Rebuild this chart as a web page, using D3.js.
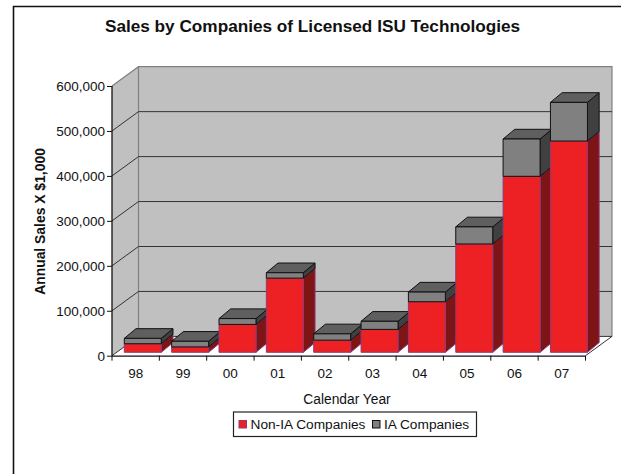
<!DOCTYPE html>
<html><head><meta charset="utf-8">
<script src="https://cdn.jsdelivr.net/npm/d3@7/dist/d3.min.js"></script>
<style>html,body{margin:0;padding:0;background:#fff}svg{display:block}text{font-family:"Liberation Sans",Arial,sans-serif;fill:#111}</style>
</head><body><svg id="c" width="621" height="474"></svg>
<script>
const categories = ["98","99","00","01","02","03","04","05","06","07"];
const nonIA = [19000,12000,62000,165000,27000,51000,112500,241000,391500,470000];
const totals = [31000,24500,75000,177000,41000,69000,134000,279000,474500,556000];
const ia = totals.map((t,i)=>t-nonIA[i]);
const yTicks = [0,100000,200000,300000,400000,500000,600000];
const seriesNames = ["Non-IA Companies","IA Companies"];
const titleText = "Sales by Companies of Licensed ISU Technologies";

const svg = d3.select("#c");
const L=112,R=585.5,T=86,B=355.7,DX=26.5,DY=19.3;
const x = d3.scaleBand().domain(categories).range([L,R]);
const y = d3.scaleLinear().domain([0,600000]).range([B,T]);
const bw=37, bdx=11.7, bdy=9.7, sx=12.3, sy=-3.4;
const poly=(pts,f,s,w)=>svg.append("polygon").attr("points",pts.map(p=>p.join(",")).join(" ")).attr("fill",f).attr("stroke",s||"none").attr("stroke-width",w||0).attr("stroke-linejoin","round");

// frame
svg.append("path").attr("d","M13.5,474V6.5H621").attr("fill","none").attr("stroke","#111").attr("stroke-width",1.6);

// walls
poly([[L,T],[L+DX,T-DY],[L+DX,B-DY],[L,B]],"#c0c0c0");
poly([[L+DX,T-DY],[R+DX,T-DY],[R+DX,B-DY],[L+DX,B-DY]],"#c0c0c0");
svg.append("path").attr("d",`M${L},${T}L${L+DX},${T-DY}H${R+DX}V${B-DY}M${L+DX},${T-DY}V${B-DY}`).attr("fill","none").attr("stroke","#808080").attr("stroke-width",1.2);
// floor
poly([[L,B],[L+DX,B-DY],[R+DX,B-DY],[R,B]],"#fff");
svg.append("path").attr("d",`M${R},${B}L${R+DX},${B-DY}H${L+DX}`).attr("fill","none").attr("stroke","#333").attr("stroke-width",1);
// gridlines
yTicks.slice(1,-1).forEach(v=>{
  svg.append("path").attr("d",`M${L},${y(v)}L${L+DX},${y(v)-DY}H${R+DX}`).attr("fill","none").attr("stroke","#333").attr("stroke-width",1);
});
svg.append("line").attr("x1",L).attr("y1",B).attr("x2",L+DX).attr("y2",B-DY).attr("stroke","#333");

// axes
const axY = svg.append("g").attr("transform",`translate(${L},0)`).call(d3.axisLeft(y).tickValues(yTicks).tickFormat(d3.format(",")).tickSize(5).tickPadding(2));
const axX = svg.append("g").attr("transform",`translate(0,${B})`).call(d3.axisBottom(x).tickSize(0).tickPadding(13));
axX.selectAll(".tick").each(function(d){
  d3.select(this).append("line").attr("x1",-x.bandwidth()/2).attr("x2",-x.bandwidth()/2).attr("y1",0).attr("y2",5).attr("stroke","#111");
});
svg.append("line").attr("x1",R).attr("x2",R).attr("y1",B).attr("y2",B+5).attr("stroke","#111");
[axX,axY].forEach(a=>{a.selectAll("text").attr("font-size",13.5).attr("font-family",'"Liberation Sans"').attr("fill","#111");a.selectAll(".domain").attr("stroke","#111").attr("stroke-width",1.3);a.selectAll(".tick line").attr("stroke","#111")});
axX.select(".domain").attr("d",`M${L},0.5H${R}`);
axY.select(".domain").attr("d",`M0,${T}V${B}`);

function box(x0,yTop,yBot,front,top,side,stroke){
  poly([[x0+bw,yTop],[x0+bw+bdx,yTop-bdy],[x0+bw+bdx,yBot-bdy],[x0+bw,yBot]],side,stroke,1);
  poly([[x0,yTop],[x0+bdx,yTop-bdy],[x0+bw+bdx,yTop-bdy],[x0+bw,yTop]],top,stroke,1);
  poly([[x0,yTop],[x0+bw,yTop],[x0+bw,yBot],[x0,yBot]],front,stroke,1);
}
categories.forEach((c,i)=>{
  const x0=x(c)+sx;
  const y0=y(0)+sy, y1=y(nonIA[i])+sy, y2=y(nonIA[i]+ia[i])+sy;
  box(x0,y1,y0,"#ed2024","#7d1416","#7d1416","#8e3a78");
  box(x0,y2,y1,"#808080","#5f5f5f","#404040","#111");
});

// titles
svg.append("text").attr("x",312.5).attr("y",32).attr("text-anchor","middle").attr("font-size",17.2).attr("font-weight","bold").text(titleText);
svg.append("text").attr("transform","translate(45,221.5) rotate(-90)").attr("text-anchor","middle").attr("font-size",13.9).attr("font-weight","bold").text("Annual Sales X $1,000");
svg.append("text").attr("x",347).attr("y",404).attr("text-anchor","middle").attr("font-size",13.8).text("Calendar Year");

// legend
svg.append("rect").attr("x",233.5).attr("y",412).attr("width",243).attr("height",24.5).attr("fill","#fff").attr("stroke","#222").attr("stroke-width",1.2);
const legendX=[[239,250.5,"#ed2024","#8e3a78"],[372.5,384,"#808080","#111"]];
legendX.forEach((l,i)=>{
  svg.append("rect").attr("x",l[0]).attr("y",420.5).attr("width",7.5).attr("height",7.5).attr("fill",l[2]).attr("stroke",l[3]);
  svg.append("text").attr("x",l[1]).attr("y",429).attr("font-size",13.7).text(seriesNames[i]);
});
</script></body></html>
